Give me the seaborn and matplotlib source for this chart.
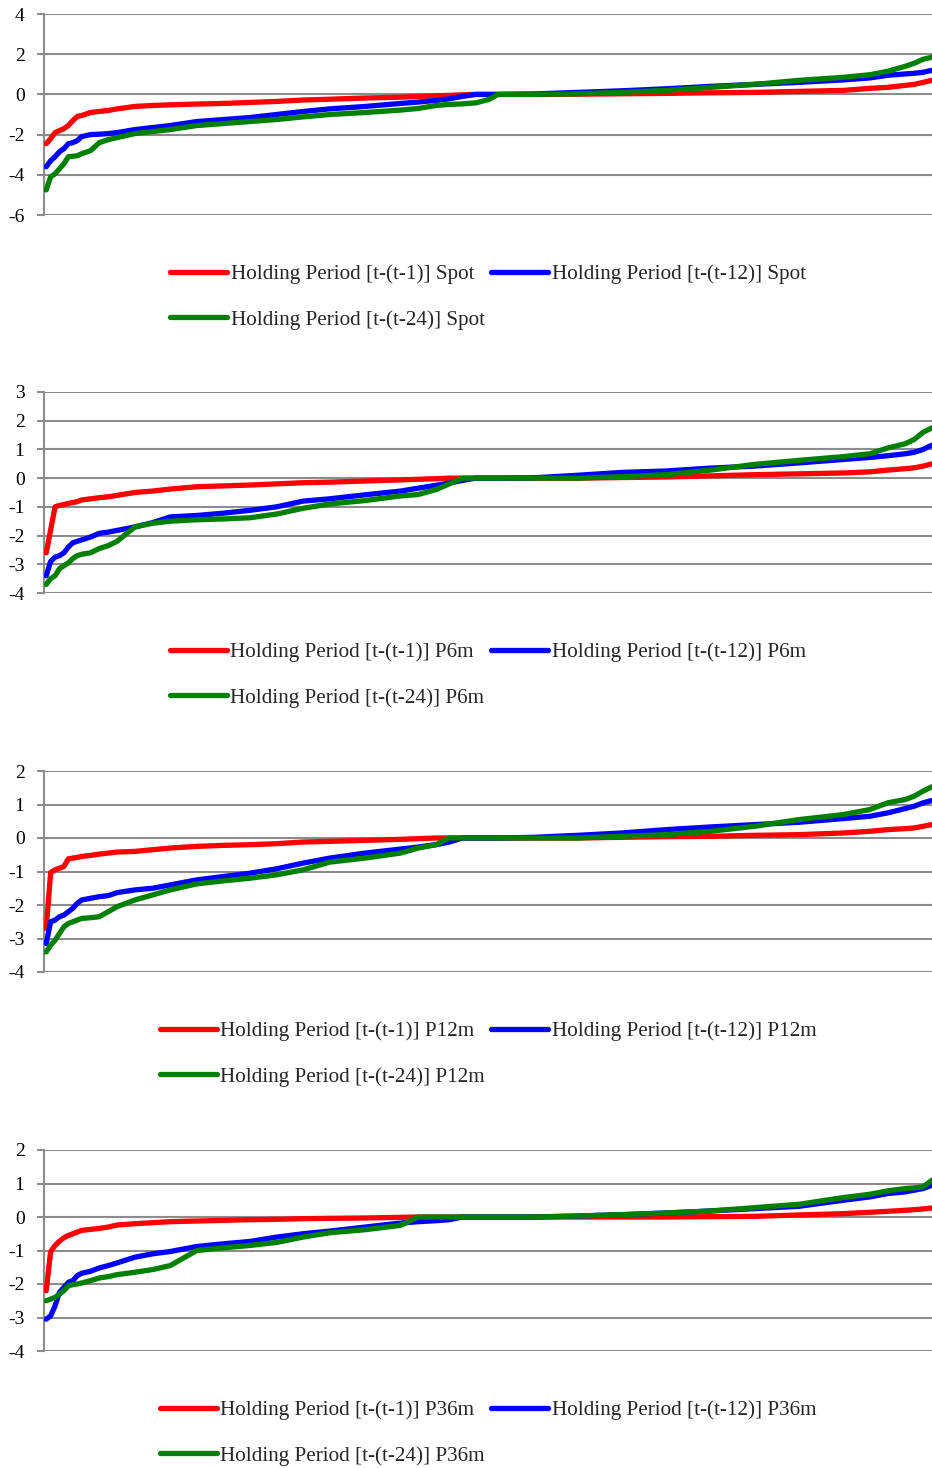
import matplotlib
matplotlib.use("Agg")
import matplotlib.pyplot as plt
import seaborn as sns
import pandas as pd

# sorted observations, x = percentile rank of the observation
rank = [0, 0.5, 1, 1.5, 2, 2.5, 3, 3.5, 4, 5, 6, 7, 8, 10, 12, 14, 17, 20, 23, 26, 29, 32,
        36, 40, 42, 44, 45.5, 47, 48.5, 50, 51, 55, 60, 65, 70, 75, 80, 85, 90, 93, 95, 97, 98, 99, 100]

panels = ['Spot', 'P6m', 'P12m', 'P36m']
periods = ['t-1', 't-12', 't-24']

# Spot
spot_1 = [-2.45, -2.2, -1.9, -1.8, -1.7, -1.55, -1.3, -1.1, -1.05, -0.9, -0.85, -0.8, -0.72, -0.6, -0.55, -0.52,
          -0.48, -0.45, -0.4, -0.35, -0.28, -0.24, -0.18, -0.14, -0.1, -0.07, -0.05, -0.02, 0, 0, 0, 0,
          0.01, 0.03, 0.05, 0.08, 0.1, 0.15, 0.2, 0.3, 0.35, 0.45, 0.5, 0.6, 0.7]
spot_12 = [-3.6, -3.3, -3.1, -2.85, -2.7, -2.45, -2.4, -2.3, -2.1, -2.0, -1.98, -1.95, -1.9, -1.75, -1.65, -1.55,
           -1.35, -1.25, -1.15, -1.0, -0.85, -0.72, -0.6, -0.45, -0.38, -0.3, -0.22, -0.1, 0, 0, 0, 0.02,
           0.1, 0.18, 0.28, 0.4, 0.5, 0.6, 0.72, 0.82, 0.95, 1.02, 1.05, 1.1, 1.2]
spot_24 = [-4.75, -4.1, -3.95, -3.7, -3.45, -3.1, -3.08, -3.05, -2.95, -2.8, -2.4, -2.25, -2.15, -1.95, -1.85, -1.75,
           -1.55, -1.45, -1.35, -1.25, -1.12, -1.0, -0.9, -0.78, -0.7, -0.55, -0.5, -0.47, -0.42, -0.25, 0, 0,
           0.03, 0.1, 0.2, 0.35, 0.5, 0.7, 0.85, 0.98, 1.15, 1.4, 1.55, 1.75, 1.85]

# P6m
p6_1 = [-2.6, -1.8, -1.0, -0.95, -0.92, -0.88, -0.85, -0.82, -0.76, -0.72, -0.68, -0.65, -0.6, -0.5, -0.45, -0.38,
        -0.3, -0.27, -0.24, -0.2, -0.16, -0.14, -0.1, -0.06, -0.04, -0.02, 0, 0, 0, 0, 0, 0,
        0, 0.02, 0.04, 0.08, 0.12, 0.15, 0.18, 0.22, 0.28, 0.33, 0.36, 0.42, 0.5]
p6_12 = [-3.4, -2.9, -2.75, -2.7, -2.6, -2.4, -2.25, -2.2, -2.15, -2.05, -1.92, -1.88, -1.82, -1.7, -1.55, -1.35,
         -1.3, -1.22, -1.12, -1.0, -0.8, -0.72, -0.58, -0.45, -0.35, -0.25, -0.17, -0.08, 0, 0, 0, 0.01,
         0.1, 0.2, 0.25, 0.35, 0.42, 0.53, 0.65, 0.72, 0.78, 0.85, 0.9, 1.0, 1.15]
p6_24 = [-3.7, -3.5, -3.4, -3.15, -3.05, -2.95, -2.8, -2.7, -2.65, -2.6, -2.45, -2.35, -2.2, -1.7, -1.57, -1.5,
         -1.45, -1.42, -1.38, -1.25, -1.05, -0.9, -0.78, -0.62, -0.57, -0.4, -0.2, 0, 0, 0, 0, 0,
         0, 0.05, 0.12, 0.28, 0.48, 0.62, 0.75, 0.85, 1.05, 1.2, 1.35, 1.6, 1.75]

# P12m
p12_1 = [-2.7, -1.03, -0.95, -0.9, -0.85, -0.62, -0.6, -0.58, -0.55, -0.52, -0.48, -0.45, -0.42, -0.4, -0.35, -0.3,
         -0.25, -0.22, -0.2, -0.17, -0.12, -0.1, -0.07, -0.04, -0.02, 0, 0, 0, 0, 0, 0, 0,
         0, 0.02, 0.04, 0.05, 0.08, 0.1, 0.15, 0.2, 0.25, 0.28, 0.3, 0.35, 0.4]
p12_12 = [-3.15, -2.5, -2.45, -2.35, -2.3, -2.2, -2.1, -1.95, -1.85, -1.8, -1.75, -1.72, -1.63, -1.55, -1.5, -1.4,
          -1.25, -1.15, -1.05, -0.92, -0.75, -0.6, -0.45, -0.33, -0.27, -0.2, -0.12, 0, 0, 0, 0, 0.02,
          0.08, 0.15, 0.25, 0.33, 0.4, 0.47, 0.58, 0.65, 0.75, 0.88, 0.95, 1.05, 1.12]
p12_24 = [-3.4, -3.2, -3.05, -2.85, -2.65, -2.55, -2.5, -2.45, -2.4, -2.38, -2.35, -2.2, -2.05, -1.85, -1.7, -1.55,
          -1.37, -1.28, -1.2, -1.1, -0.95, -0.72, -0.6, -0.45, -0.3, -0.2, 0, 0, 0, 0, 0, 0,
          0, 0.05, 0.1, 0.2, 0.35, 0.55, 0.7, 0.85, 1.05, 1.15, 1.25, 1.4, 1.53]

# P36m
p36_1 = [-2.2, -1.03, -0.85, -0.72, -0.62, -0.55, -0.5, -0.45, -0.4, -0.37, -0.34, -0.3, -0.24, -0.2, -0.17, -0.14,
         -0.12, -0.1, -0.08, -0.07, -0.05, -0.04, -0.03, -0.01, 0, 0, 0, 0, 0, 0, 0, 0,
         0, 0, 0, 0.01, 0.02, 0.06, 0.1, 0.14, 0.17, 0.2, 0.22, 0.24, 0.27]
p36_12 = [-3.05, -2.95, -2.65, -2.25, -2.1, -1.95, -1.9, -1.75, -1.68, -1.62, -1.52, -1.45, -1.37, -1.2, -1.1, -1.03,
          -0.88, -0.8, -0.73, -0.6, -0.5, -0.42, -0.3, -0.18, -0.14, -0.11, -0.08, 0, 0, 0, 0, 0,
          0.03, 0.07, 0.12, 0.18, 0.25, 0.32, 0.5, 0.6, 0.7, 0.75, 0.8, 0.85, 0.95]
p36_24 = [-2.5, -2.45, -2.4, -2.3, -2.2, -2.05, -2.02, -2.0, -1.97, -1.9, -1.82, -1.78, -1.72, -1.65, -1.57, -1.45,
          -1.0, -0.92, -0.85, -0.76, -0.6, -0.47, -0.38, -0.25, 0, 0, 0, 0, 0, 0, 0, 0,
          0.03, 0.07, 0.12, 0.18, 0.28, 0.38, 0.58, 0.68, 0.78, 0.85, 0.87, 0.9, 1.1]

values = {
    'Spot': [spot_1, spot_12, spot_24],
    'P6m': [p6_1, p6_12, p6_24],
    'P12m': [p12_1, p12_12, p12_24],
    'P36m': [p36_1, p36_12, p36_24],
}
ylims = {'Spot': (-6, 4, 2), 'P6m': (-4, 3, 1), 'P12m': (-4, 2, 1), 'P36m': (-4, 2, 1)}

colors = ['#ff0000', '#0000ff', '#008000']
grid_col = '#8c8c8c'

sns.set_style("white")
plt.rcParams['font.family'] = ['Liberation Serif', 'DejaVu Serif']
plt.rcParams['axes.unicode_minus'] = False

W, H = 932, 1468
fig = plt.figure(figsize=(W / 100, H / 100), dpi=100)

tops = [14, 392, 771, 1150]
ph = 201

for i, name in enumerate(panels):
    top = tops[i]
    ax = fig.add_axes([44 / W, 1 - (top + ph) / H, 888 / W, ph / H])
    lo, hi, step = ylims[name]
    for j, per in enumerate(periods):
        df = pd.DataFrame({'rank': rank, 'val': values[name][j]})
        sns.lineplot(data=df, x='rank', y='val', ax=ax, color=colors[j], linewidth=3.8,
                     estimator=None, sort=False, solid_capstyle='round',
                     label='Holding Period [t-(%s)] %s' % (per, name), zorder=3)
    ax.set_xlim(-0.25, 100)
    ax.set_ylim(lo, hi)
    ax.set_yticks(range(lo, hi + 1, step))
    ax.set_xticks([])
    ax.set_xlabel('')
    ax.set_ylabel('')
    ax.grid(axis='y', color=grid_col, linewidth=1.5)
    ax.set_axisbelow(True)
    for s in ['top', 'right', 'bottom']:
        ax.spines[s].set_visible(False)
    ax.spines['left'].set_color(grid_col)
    ax.spines['left'].set_linewidth(1.5)
    ax.tick_params(axis='y', left=True, length=5, width=1.5, color=grid_col, pad=9,
                   labelsize=14, labelcolor='black')
    h, l = ax.get_legend_handles_labels()
    order = [0, 2, 1]
    ax.legend([h[k] for k in order], [l[k] for k in order], ncol=2, frameon=False,
              loc='upper center', bbox_to_anchor=(0.5, -0.205), fontsize=15.2,
              handlelength=2.7, handletextpad=0.15, columnspacing=0.33, labelspacing=1.2,
              borderaxespad=0)

fig.savefig('out.png', dpi=100)
